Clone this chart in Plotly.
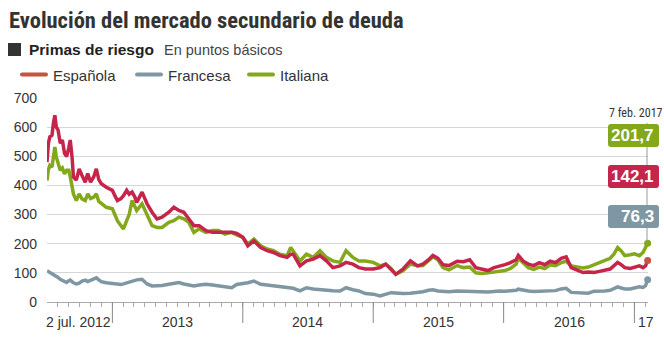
import plotly.graph_objects as go

dates = [
    "2012-07-02","2012-07-06","2012-07-10","2012-07-16","2012-07-20","2012-07-24","2012-07-28",
    "2012-08-02","2012-08-08","2012-08-14","2012-08-20","2012-08-26","2012-09-01","2012-09-05",
    "2012-09-10","2012-09-14","2012-09-22","2012-09-30","2012-10-08","2012-10-17","2012-10-24",
    "2012-11-01","2012-11-10","2012-11-17","2012-11-24","2012-12-01","2012-12-15",
    "2013-01-01","2013-01-08","2013-01-15","2013-01-25","2013-02-01","2013-02-10","2013-02-17",
    "2013-02-25","2013-03-05","2013-03-10","2013-03-25","2013-04-08","2013-04-22","2013-05-06",
    "2013-05-20","2013-06-08","2013-06-22","2013-07-06","2013-07-20","2013-08-03","2013-08-17",
    "2013-09-01","2013-09-20","2013-10-08","2013-10-25","2013-11-12","2013-12-01","2013-12-15",
    "2014-01-01","2014-01-15","2014-02-01","2014-02-20","2014-03-10","2014-03-28","2014-04-15",
    "2014-05-05","2014-05-15","2014-05-22","2014-06-10","2014-06-28","2014-07-17","2014-08-05",
    "2014-08-23","2014-09-10","2014-09-30","2014-10-17","2014-11-05","2014-11-22","2014-12-10",
    "2015-01-01","2015-01-20","2015-02-05","2015-02-20","2015-03-05","2015-03-25","2015-04-15",
    "2015-05-05","2015-05-20","2015-06-05","2015-06-17","2015-07-01","2015-07-15","2015-08-01",
    "2015-08-24","2015-09-10","2015-09-28","2015-10-15","2015-11-01","2015-11-18","2015-12-05",
    "2015-12-20","2016-01-05","2016-01-20","2016-02-05","2016-02-11","2016-02-25","2016-03-10",
    "2016-03-25","2016-04-10","2016-04-25","2016-05-10","2016-05-25","2016-06-10","2016-06-24",
    "2016-07-08","2016-07-25","2016-08-10","2016-08-25","2016-09-10","2016-09-25","2016-10-10",
    "2016-10-25","2016-11-05","2016-11-15","2016-11-25","2016-12-05","2016-12-20","2017-01-01",
    "2017-01-15","2017-01-25","2017-02-01","2017-02-07",
]

espana = [
    480,545,567,572,614,641,601,
    590,545,556,510,499,530,556,
    499,429,418,457,434,411,441,
    411,430,457,420,406,394,
    383,365,348,355,365,383,370,
    377,360,342,377,337,308,285,
    291,308,325,314,308,285,262,
    262,245,239,239,239,239,235,
    222,193,210,187,176,170,159,
    153,164,164,124,141,147,159,
    141,118,124,136,130,118,113,
    113,118,130,110,95,113,141,
    124,130,145,160,150,128,125,
    140,138,145,118,112,108,118,
    122,128,135,145,160,140,130,
    125,135,128,140,135,150,155,
    118,110,101,103,101,105,110,
    113,125,136,128,118,115,120,
    124,118,124,142.1,
]

francia = [
    107,104,100,98,95,92,90,
    84,78,75,70,67,73,75,
    70,66,62,65,72,75,70,
    75,80,83,76,70,66,
    63,62,61,60,62,66,68,
    72,74,76,78,62,55,55,
    57,61,64,67,62,58,55,
    58,61,58,55,52,49,60,
    63,66,72,61,58,55,52,
    49,48,47,38,49,45,42,
    40,39,38,49,42,38,29,
    27,21,28,32,31,29,30,
    32,35,40,42,38,36,35,
    38,37,36,35,33,34,36,
    38,37,38,40,44,40,38,
    36,37,35,38,39,45,47,
    33,31,29,30,37,36,38,
    40,46,52,48,45,45,48,
    52,50,56,76.3,
]

italia = [
    417,455,469,463,498,532,498,
    480,452,460,440,452,452,430,
    400,371,348,371,354,348,371,
    355,360,371,345,337,325,
    320,300,279,262,251,279,300,
    348,330,314,337,302,262,256,
    256,273,279,291,285,273,239,
    251,239,245,245,233,239,230,
    222,199,216,193,182,176,164,
    159,187,175,141,164,153,176,
    153,141,136,176,153,141,141,
    136,124,130,115,95,107,130,
    124,125,140,155,145,118,110,
    125,118,120,100,98,100,102,
    105,108,115,130,150,132,118,
    112,120,115,128,125,135,140,
    124,120,117,120,128,138,145,
    150,165,187,175,159,162,165,
    159,170,187,201.7,
]

y_ticks = [0, 100, 200, 300, 400, 500, 600, 700]
year_ticks = ["2013-01-01", "2014-01-01", "2015-01-01", "2016-01-01", "2017-01-01"]
year_labels = ["2013", "2014", "2015", "2016"]
year_label_pos = ["2013-07-02", "2014-07-02", "2015-07-02", "2016-07-02"]
series_names = ["Española", "Francesa", "Italiana"]
last_labels = ["201,7", "142,1", "76,3"]

C_ES = "#c5254b"
C_ES_LEG = "#c4553f"
C_FR = "#7f97a3"
C_IT = "#83a81c"
FONT = "Liberation Sans, Arial, sans-serif"
NARROW = "Liberation Sans Narrow, Roboto Condensed, DejaVu Sans Condensed, Arial Narrow, sans-serif"

W, H = 664, 341
PX0, PX1, PY0, PY1 = 47, 648, 98, 302


def px(x):
    return (x - PX0) / (PX1 - PX0)


def py(y):
    return (PY1 - y) / (PY1 - PY0)


def rrect(x0, y0, x1, y1, r=3):
    rx = r / (PX1 - PX0)
    ry = r / (PY1 - PY0)
    a, b, c, d = px(x0), py(y1), px(x1), py(y0)
    return (f"M{a+rx},{b} L{c-rx},{b} Q{c},{b} {c},{b+ry} L{c},{d-ry} Q{c},{d} {c-rx},{d} "
            f"L{a+rx},{d} Q{a},{d} {a},{d-ry} L{a},{b+ry} Q{a},{b} {a+rx},{b} Z")


fig = go.Figure()
fig.add_trace(go.Scatter(x=dates, y=italia, mode="lines", line=dict(color=C_IT, width=3.5),
                         name=series_names[2], showlegend=False, hoverinfo="skip"))
fig.add_trace(go.Scatter(x=dates, y=espana, mode="lines", line=dict(color=C_ES, width=3.5),
                         name=series_names[0], showlegend=False, hoverinfo="skip"))
fig.add_trace(go.Scatter(x=dates, y=francia, mode="lines", line=dict(color=C_FR, width=3.5),
                         name=series_names[1], showlegend=False, hoverinfo="skip"))
fig.add_trace(go.Scatter(x=[dates[-1]] * 3, y=[italia[-1], espana[-1], francia[-1]], mode="markers",
                         marker=dict(color=[C_IT, C_ES_LEG, C_FR], size=7),
                         showlegend=False, hoverinfo="skip", cliponaxis=False))

shapes = []
annotations = []

shapes.append(dict(type="rect", xref="paper", yref="paper", x0=px(598), x1=px(651), y0=py(235),
                   y1=py(103), fillcolor="white", line=dict(width=0), layer="between"))
shapes.append(dict(type="line", xref="paper", yref="paper", x0=px(647), x1=px(647), y0=py(123),
                   y1=py(242), line=dict(color="#9a9a9a", width=1), layer="above"))
box_specs = [(124, 147, C_IT), (165, 188, C_ES), (205, 228, C_FR)]
for (y0, y1, col), txt in zip(box_specs, last_labels):
    shapes.append(dict(type="path", xref="paper", yref="paper", path=rrect(608, y0, 659, y1),
                       fillcolor=col, line=dict(width=0), layer="above"))
    annotations.append(dict(x=px(656), y=py((y0 + y1) / 2), xref="paper", yref="paper", text=txt,
                            showarrow=False, xanchor="right", yanchor="middle",
                            font=dict(family=FONT, size=17, color="white", weight="bold")))
annotations.append(dict(x=px(636), y=py(113), xref="paper", yref="paper", text="7 feb. 2017",
                        showarrow=False, xanchor="center", yanchor="middle",
                        font=dict(family=NARROW, size=12, color="#333")))

for d in year_ticks:
    shapes.append(dict(type="line", xref="x", yref="paper", x0=d, x1=d, y0=0, y1=py(323),
                       line=dict(color="#888", width=1)))
for d, t in zip(year_label_pos, year_labels):
    annotations.append(dict(x=d, y=py(322), xref="x", yref="paper", text=t, showarrow=False,
                            xanchor="center", yanchor="middle",
                            font=dict(family=FONT, size=14, color="#333")))
annotations.append(dict(x=px(44), y=py(322), xref="paper", yref="paper", text="2 jul. 2012",
                        showarrow=False, xanchor="left", yanchor="middle",
                        font=dict(family=FONT, size=14, color="#333")))
annotations.append(dict(x=px(636), y=py(322), xref="paper", yref="paper", text="17",
                        showarrow=False, xanchor="left", yanchor="middle",
                        font=dict(family=FONT, size=14, color="#333")))

annotations.append(dict(x=px(7), y=py(20), xref="paper", yref="paper",
                        text="Evolución del mercado secundario de deuda", showarrow=False,
                        xanchor="left", yanchor="middle",
                        font=dict(family=NARROW, size=22.5, color="#333", weight="bold")))
shapes.append(dict(type="rect", xref="paper", yref="paper", x0=px(8), x1=px(21), y0=py(56),
                   y1=py(43), fillcolor="#333", line=dict(width=0)))
annotations.append(dict(x=px(27), y=py(50), xref="paper", yref="paper",
                        text="<b>Primas de riesgo</b>", showarrow=False,
                        xanchor="left", yanchor="middle",
                        font=dict(family=FONT, size=15.5, color="#222")))
annotations.append(dict(x=px(162), y=py(50), xref="paper", yref="paper",
                        text="En puntos básicos", showarrow=False,
                        xanchor="left", yanchor="middle",
                        font=dict(family=FONT, size=14.5, color="#444")))

leg = [(20, 48, 51, C_ES_LEG, series_names[0]), (135, 163, 166, C_FR, series_names[1]),
       (247, 275, 278, C_IT, series_names[2])]
for x0, x1, tx, col, name in leg:
    shapes.append(dict(type="path", xref="paper", yref="paper", path=rrect(x0, 72.5, x1, 76.5, r=2),
                       fillcolor=col, line=dict(width=0)))
    annotations.append(dict(x=px(tx), y=py(75), xref="paper", yref="paper", text=name,
                            showarrow=False, xanchor="left", yanchor="middle",
                            font=dict(family=FONT, size=15, color="#333")))

fig.update_layout(
    width=W, height=H,
    margin=dict(l=PX0, r=W - PX1, t=PY0, b=H - PY1, pad=0),
    paper_bgcolor="white", plot_bgcolor="white",
    showlegend=False,
    shapes=shapes, annotations=annotations,
    xaxis=dict(range=["2012-07-02", "2017-02-08"], showgrid=False, zeroline=False,
               showline=True, linecolor="#aaa", linewidth=1,
               tickvals=year_ticks, ticks="", showticklabels=False,
               minor=dict(dtick="M1", tick0="2012-08-01", ticks="outside", ticklen=4,
                          tickcolor="#aaa", showgrid=False)),
    yaxis=dict(range=[0, 700], tickvals=y_ticks, showgrid=True, gridcolor="#d6d6d6", gridwidth=1,
               zeroline=False, showline=False, ticks="", ticklabelstandoff=9,
               tickfont=dict(family=FONT, size=14, color="#333")),
)

fig.write_html("out.html")
